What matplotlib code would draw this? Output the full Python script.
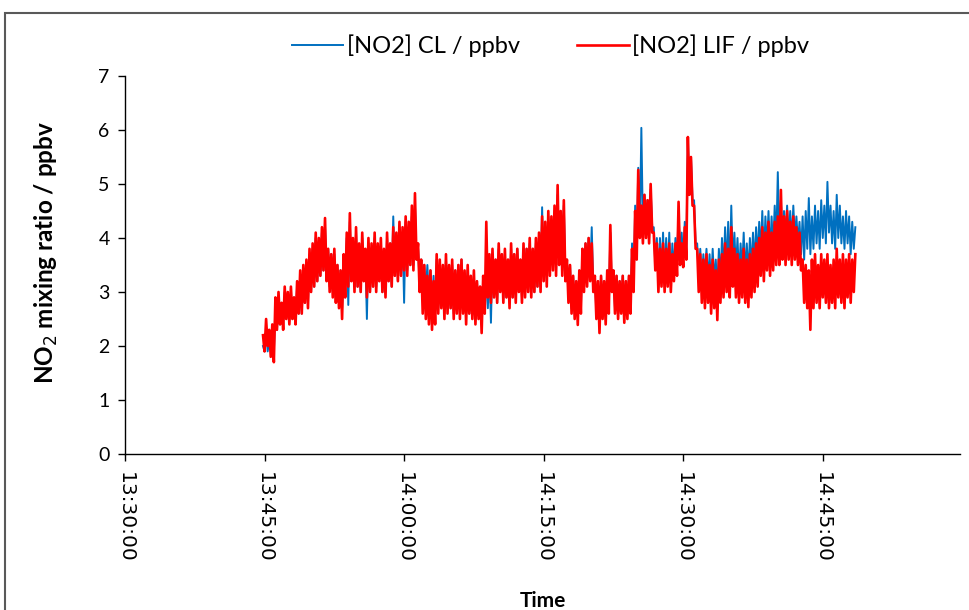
"""NO2 mixing ratio time series: CL vs LIF instrument comparison."""

import matplotlib
matplotlib.use("Agg")
import matplotlib.pyplot as plt
import matplotlib.dates as mdates
from matplotlib.patches import Rectangle
import pandas as pd

# sample times: 10 s resolution starting 13:44:50
T_START = "2000-01-01 13:44:50"
T_STEP = "10s"

no2_cl = [
    2.0, 1.9, 2.3, 1.9, 2.1, 2.0, 2.3, 1.9, 2.7, 2.3,
    2.9, 2.4, 2.8, 2.4, 3.0, 2.5, 2.9, 2.5, 3.0, 2.5,
    2.9, 2.5, 3.1, 2.6, 3.3, 2.6, 3.4, 2.8, 3.5, 2.8,
    3.7, 3.0, 3.8, 3.1, 4.0, 3.2, 3.9, 3.3, 4.1, 3.4,
    4.2, 3.3, 3.8, 3.1, 3.7, 3.0, 3.7, 2.9, 3.5, 2.8,
    3.4, 2.7, 3.6, 2.9, 4.0, 2.76, 4.3, 3.2, 3.9, 3.1,
    4.1, 3.1, 3.8, 3.0, 4.0, 3.2, 3.7, 2.5, 3.9, 3.0,
    3.8, 3.1, 4.0, 3.1, 3.8, 3.2, 3.9, 3.0, 3.7, 3.0,
    4.0, 3.2, 3.9, 3.1, 4.4, 3.3, 4.0, 3.2, 4.2, 3.3,
    4.1, 2.8, 4.3, 3.4, 4.2, 3.5, 4.4, 3.5, 4.6, 3.6,
    3.8, 3.2, 3.6, 3.0, 3.5, 3.0, 3.5, 2.9, 3.4, 2.8,
    3.3, 2.6, 3.6, 2.7, 3.5, 2.8, 3.4, 2.6, 3.6, 2.7,
    3.4, 2.7, 3.5, 2.6, 3.4, 2.7, 3.5, 2.6, 3.6, 2.7,
    3.3, 2.6, 3.4, 2.6, 3.3, 2.6, 3.3, 2.5, 3.2, 2.6,
    3.1, 2.4, 3.2, 2.6, 3.4, 2.7, 3.5, 2.43, 3.7, 2.9,
    3.6, 2.8, 3.8, 3.0, 3.7, 2.9, 3.7, 2.9, 3.6, 2.8,
    3.8, 2.9, 3.7, 2.9, 3.8, 3.0, 3.6, 2.9, 3.8, 3.0,
    3.8, 3.0, 3.9, 3.0, 3.8, 3.0, 3.9, 3.1, 4.0, 3.1,
    4.57, 3.3, 4.2, 3.2, 4.4, 3.4, 4.3, 3.5, 4.5, 3.4,
    4.8, 3.6, 4.4, 3.4, 4.6, 3.3, 3.6, 2.9, 3.5, 2.7,
    3.3, 2.6, 3.2, 2.6, 3.4, 2.7, 3.8, 3.1, 3.9, 3.2,
    4.0, 3.3, 4.2, 3.1, 3.3, 2.6, 3.2, 2.4, 3.3, 2.6,
    3.2, 2.5, 3.4, 2.7, 4.1, 3.0, 3.4, 2.7, 3.3, 2.6,
    3.2, 2.7, 3.3, 2.6, 3.2, 2.6, 3.3, 2.7, 3.9, 3.1,
    4.6, 3.7, 5.3, 4.1, 6.04, 4.2, 4.8, 4.1, 4.7, 4.0,
    4.9, 4.2, 4.2, 3.5, 4.0, 3.2, 4.0, 3.3, 4.1, 3.2,
    4.0, 3.3, 4.1, 3.2, 3.9, 3.4, 4.0, 3.5, 4.5, 3.6,
    4.1, 3.6, 4.3, 3.7, 5.85, 4.9, 5.5, 4.7, 4.7, 3.9,
    3.9, 3.3, 3.8, 3.2, 3.7, 3.3, 3.8, 3.2, 3.7, 3.1,
    3.8, 3.2, 3.6, 3.0, 3.8, 3.2, 4.0, 3.3, 4.2, 3.4,
    4.3, 3.3, 4.6, 3.5, 4.1, 3.4, 4.0, 3.3, 3.9, 3.4,
    4.1, 3.3, 3.9, 3.3, 4.0, 3.4, 4.1, 3.5, 4.2, 3.6,
    4.3, 3.7, 4.5, 3.6, 4.4, 3.8, 4.5, 3.7, 4.4, 3.8,
    4.6, 3.9, 5.22, 4.0, 4.7, 3.9, 4.5, 4.0, 4.6, 4.0,
    4.5, 3.9, 4.6, 4.0, 4.4, 3.9, 4.3, 3.7, 4.4, 3.6,
    4.5, 3.8, 4.74, 3.7, 4.4, 3.8, 4.6, 3.9, 4.5, 3.8,
    4.7, 4.0, 4.6, 3.9, 5.04, 4.1, 4.6, 3.9, 4.5, 3.8,
    4.8, 4.0, 4.6, 3.9, 4.4, 3.8, 4.5, 3.9, 4.4, 3.7,
    4.3, 3.8, 4.2,
]

no2_lif = [
    2.2, 1.9, 2.5, 2.0, 2.3, 1.8, 2.4, 1.7, 2.9, 2.3,
    3.0, 2.4, 2.8, 2.3, 3.1, 2.5, 3.0, 2.4, 3.1, 2.5,
    2.9, 2.4, 3.2, 2.6, 3.4, 2.6, 3.5, 2.8, 3.6, 2.7,
    3.8, 3.0, 3.9, 3.1, 4.1, 3.2, 4.0, 3.3, 4.2, 3.4,
    4.37, 3.2, 3.8, 3.0, 3.7, 2.9, 3.8, 2.8, 3.5, 2.7,
    3.4, 2.5, 3.7, 2.9, 4.1, 3.1, 4.46, 3.2, 4.0, 3.0,
    4.2, 3.1, 3.9, 3.0, 4.1, 3.2, 3.8, 2.9, 4.0, 3.0,
    3.9, 3.1, 4.1, 3.0, 3.9, 3.2, 4.0, 3.0, 3.8, 2.9,
    4.1, 3.2, 3.9, 3.1, 4.2, 3.3, 4.1, 3.2, 4.3, 3.3,
    4.2, 3.4, 4.4, 3.3, 4.3, 3.5, 4.6, 3.4, 4.83, 3.6,
    3.9, 3.0, 3.6, 2.6, 3.5, 2.5, 3.3, 2.4, 3.4, 2.3,
    3.2, 2.4, 3.7, 2.6, 3.6, 2.7, 3.5, 2.5, 3.7, 2.6,
    3.5, 2.7, 3.6, 2.5, 3.4, 2.6, 3.5, 2.5, 3.6, 2.6,
    3.4, 2.4, 3.5, 2.6, 3.3, 2.5, 3.4, 2.4, 3.2, 2.5,
    3.1, 2.24, 3.3, 2.6, 4.3, 2.9, 3.7, 2.8, 3.8, 2.9,
    3.6, 2.8, 3.9, 3.0, 3.7, 2.8, 3.8, 2.9, 3.6, 2.7,
    3.9, 2.9, 3.7, 2.8, 3.8, 3.0, 3.6, 2.8, 3.9, 2.9,
    3.8, 3.0, 4.0, 2.9, 3.8, 3.0, 4.0, 3.1, 4.1, 3.0,
    4.4, 3.2, 4.3, 3.1, 4.5, 3.3, 4.4, 3.4, 4.6, 3.3,
    4.98, 3.5, 4.5, 3.3, 4.7, 3.2, 3.6, 2.8, 3.5, 2.6,
    3.3, 2.5, 3.2, 2.39, 3.4, 2.6, 3.8, 3.0, 3.9, 3.1,
    4.0, 3.2, 3.9, 3.0, 3.3, 2.5, 3.2, 2.24, 3.3, 2.5,
    3.2, 2.4, 3.4, 2.6, 4.24, 3.0, 3.4, 2.6, 3.3, 2.5,
    3.2, 2.6, 3.3, 2.43, 3.2, 2.5, 3.3, 2.6, 3.8, 3.0,
    4.5, 3.6, 5.26, 4.0, 4.6, 3.9, 4.8, 4.0, 4.7, 3.9,
    5.0, 4.1, 4.1, 3.4, 3.9, 3.0, 3.8, 3.1, 3.9, 3.0,
    3.8, 3.1, 3.9, 3.0, 3.7, 3.2, 3.9, 3.3, 4.67, 3.5,
    3.9, 3.46, 4.2, 3.6, 5.87, 4.8, 5.5, 4.6, 4.6, 3.8,
    3.8, 3.0, 3.7, 2.8, 3.6, 2.7, 3.7, 2.8, 3.5, 2.6,
    3.6, 2.7, 3.4, 2.48, 3.6, 2.8, 3.7, 2.9, 3.9, 3.0,
    3.8, 2.9, 4.2, 3.1, 3.8, 2.9, 3.7, 2.8, 3.6, 2.9,
    3.8, 2.8, 3.6, 2.72, 3.7, 2.9, 3.8, 3.0, 3.9, 3.1,
    4.0, 3.3, 4.2, 3.2, 4.1, 3.4, 4.3, 3.3, 4.1, 3.4,
    4.3, 3.5, 4.4, 3.5, 4.89, 3.6, 4.4, 3.5, 4.5, 3.6,
    4.3, 3.5, 4.4, 3.6, 4.2, 3.5, 4.1, 3.4, 3.6, 2.8,
    3.5, 2.7, 3.4, 2.3, 3.6, 2.7, 3.7, 2.8, 3.5, 2.7,
    3.7, 2.9, 3.6, 2.8, 3.7, 2.7, 3.5, 2.8, 3.6, 2.7,
    3.8, 2.9, 3.6, 2.8, 3.7, 2.7, 3.6, 2.9, 3.7, 2.8,
    3.6, 3.0, 3.7,
]

X_TICKS = ["13:30:00", "13:45:00", "14:00:00", "14:15:00", "14:30:00", "14:45:00"]
Y_TICKS = [0, 1, 2, 3, 4, 5, 6, 7]

BLUE = "#0070C0"
RED = "#FF0000"
CAL = ["Lato", "DejaVu Sans"]


def main():
    times = pd.date_range(T_START, periods=len(no2_cl), freq=T_STEP)

    fig = plt.figure(figsize=(9.7, 6.1), dpi=100)
    ax = fig.add_axes([125 / 970, 1 - 454 / 610, 835 / 970, 378 / 610])

    ax.plot(times, no2_cl, color=BLUE, lw=1.4, label="[NO2] CL / ppbv")
    ax.plot(times, no2_lif, color=RED, lw=1.9, label="[NO2] LIF / ppbv")

    ax.set_xlim(pd.Timestamp("2000-01-01 13:30:00"), pd.Timestamp("2000-01-01 14:59:45"))
    ax.set_ylim(0, 7)
    ax.set_xticks([pd.Timestamp("2000-01-01 " + t) for t in X_TICKS])
    ax.xaxis.set_major_formatter(mdates.DateFormatter("%H:%M:%S"))
    ax.set_yticks(Y_TICKS)

    for s in ("top", "right"):
        ax.spines[s].set_visible(False)
    for s in ("left", "bottom"):
        ax.spines[s].set_linewidth(1.0)
    ax.tick_params(axis="both", direction="out", length=5, width=1.0)
    ax.tick_params(axis="x", labelrotation=270, labelsize=14.5, pad=8)
    ax.tick_params(axis="y", labelsize=14, pad=6)
    for lab in ax.get_yticklabels():
        lab.set_family(CAL)
    for lab in ax.get_xticklabels():
        lab.set_family("DejaVu Sans")
        lab.set_va("top")

    ax.set_xlabel("Time", fontsize=15, fontweight="bold", family=CAL, labelpad=20)
    ax.set_ylabel("NO$_2$ mixing ratio / ppbv", fontsize=17.5, fontweight="bold", family=CAL)
    ax.yaxis.set_label_coords(-0.078, 0.534)

    fig.legend(loc="center", bbox_to_anchor=(0.5675, 1 - 46 / 610), ncol=2, frameon=False,
               prop={"family": CAL, "size": 17}, handlelength=2.2, handletextpad=0.15,
               columnspacing=2.4)

    fig.add_artist(Rectangle((5 / 970, -0.1), 1.2, 1.1 - 13 / 610, transform=fig.transFigure,
                             fill=False, edgecolor="#595959", lw=1.5))

    fig.savefig("out.png", dpi=100)
    plt.close(fig)


if __name__ == "__main__":
    main()
